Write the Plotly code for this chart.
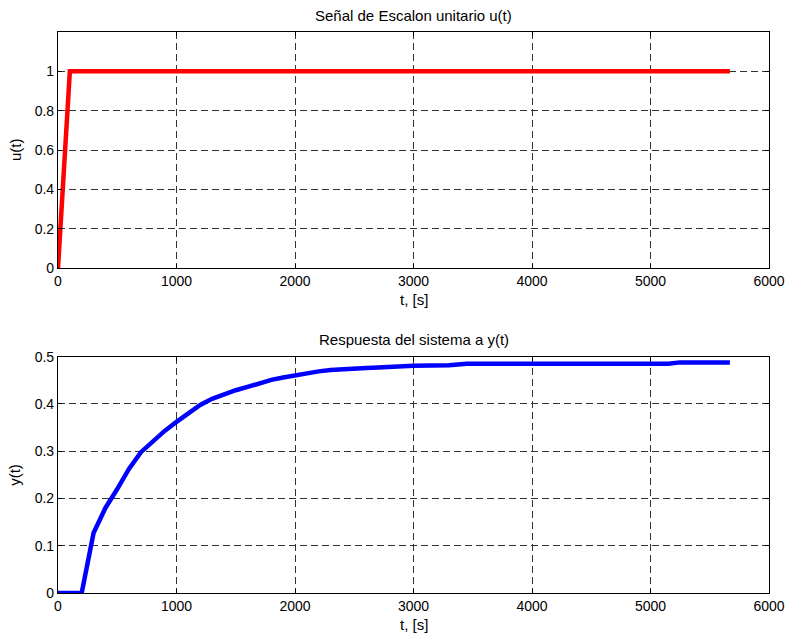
import plotly.graph_objects as go
from plotly.subplots import make_subplots

# Step input u(t)
t_u = [0, 100, 5670]
u_vals = [0, 1, 1]

# System response y(t)
t_y = [0, 200, 300, 400, 500, 600, 700, 800, 900, 1000, 1100, 1200, 1300, 1400,
       1500, 1600, 1700, 1800, 1900, 2000, 2100, 2200, 2300, 2400, 2500, 2600,
       2700, 2800, 2900, 3000, 3300, 3450, 5150, 5250, 5670]
y_vals = [0, 0, 0.127, 0.18, 0.22, 0.263, 0.298, 0.322, 0.343, 0.362, 0.38, 0.398,
          0.411, 0.421, 0.429, 0.436, 0.444, 0.451, 0.456, 0.461, 0.464, 0.469,
          0.472, 0.474, 0.475, 0.476, 0.477, 0.479, 0.48, 0.481, 0.482, 0.485,
          0.485, 0.488, 0.488]

x_ticks = [0, 1000, 2000, 3000, 4000, 5000, 6000]
u_ticks = [0, 0.2, 0.4, 0.6, 0.8, 1]
y_ticks = [0, 0.1, 0.2, 0.3, 0.4, 0.5]

title1 = "Señal de Escalon unitario u(t)"
title2 = "Respuesta del sistema a y(t)"

FONT = "Liberation Sans, Arial, sans-serif"
FS = 14
FT = 15

fig = make_subplots(rows=2, cols=1)
fig.add_trace(go.Scatter(x=t_u, y=u_vals, mode="lines",
                         line=dict(color="#ff0000", width=4.5)), row=1, col=1)
fig.add_trace(go.Scatter(x=t_y, y=y_vals, mode="lines",
                         line=dict(color="#0000ff", width=4.5)), row=2, col=1)

axis_common = dict(
    showline=True, linecolor="black", linewidth=1.2, mirror="ticks",
    ticks="inside", ticklen=4, tickcolor="black",
    showgrid=True, gridcolor="#333333", gridwidth=1, griddash="7px,4px",
    zeroline=False, tickfont=dict(family=FONT, size=FS, color="black"),
    automargin=False,
)

fig.update_xaxes(range=[0, 6000], tickvals=x_ticks, ticktext=[str(v) for v in x_ticks],
                 **axis_common)
fig.update_yaxes(range=[0, 1.2], tickvals=u_ticks,
                 ticktext=["0", "0.2", "0.4", "0.6", "0.8", "1"], row=1, col=1, **axis_common)
fig.update_yaxes(range=[0, 0.5], tickvals=y_ticks,
                 ticktext=["0", "0.1", "0.2", "0.3", "0.4", "0.5"], row=2, col=1, **axis_common)

fig.update_layout(
    width=786, height=637,
    margin=dict(l=58, r=17, t=32, b=44),
    paper_bgcolor="white", plot_bgcolor="white",
    showlegend=False,
    font=dict(family=FONT, size=FS, color="black"),
    yaxis=dict(domain=[0.5793, 1.0]),
    yaxis2=dict(domain=[0.0, 0.4212]),
)

ann = []
for xr, yr, ttl, ylab in [("x", "y", title1, "u(t)"), ("x2", "y2", title2, "y(t)")]:
    ann.append(dict(text=ttl, xref=xr + " domain", yref=yr + " domain", x=0.5, y=1,
                    xanchor="center", yanchor="middle", yshift=17, showarrow=False,
                    font=dict(family=FONT, size=FT, color="black")))
    ann.append(dict(text="t, [s]", xref=xr + " domain", yref=yr + " domain", x=0.5, y=0,
                    xanchor="center", yanchor="middle", yshift=-31, showarrow=False,
                    font=dict(family=FONT, size=FT, color="black")))
    ann.append(dict(text=ylab, xref=xr + " domain", yref=yr + " domain", x=0, y=0.5,
                    xanchor="center", yanchor="middle", xshift=-43, textangle=-90,
                    showarrow=False, font=dict(family=FONT, size=FT, color="black")))
fig.update_layout(annotations=ann)

fig.write_html(
    "out.html",
    config={"displayModeBar": False},
    post_script="document.body.style.margin='0';document.body.style.overflow='hidden';",
)
